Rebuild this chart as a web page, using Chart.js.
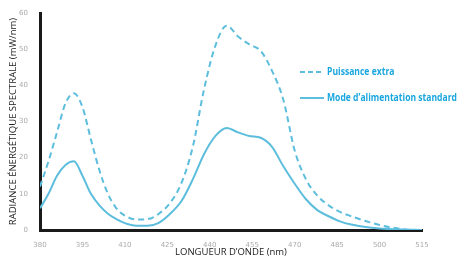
<!DOCTYPE html>
<html>
<head>
<meta charset="utf-8">
<script src="https://cdn.jsdelivr.net/npm/chart.js@4.4.1/dist/chart.umd.min.js"></script>
<style>
  html, body { margin: 0; padding: 0; background: #fff; }
  #wrap { position: relative; width: 458px; height: 259px; }
</style>
</head>
<body>
<div id="wrap"><canvas id="spectrumChart" width="458" height="259"></canvas></div>
<script>
  // wavelengths (nm) and radiance values (mW/nm)
  var wavelengths = [380, 383, 386, 389, 392, 395, 398, 401, 404, 407, 410, 414, 418, 422, 426, 430, 434, 438, 442, 446, 450, 454, 458, 462, 466, 470, 474, 478, 482, 486, 490, 495, 500, 505, 510, 515];
  var extraPower = [12, 19, 27, 35, 37.8, 34, 25, 16.5, 10, 6, 4, 2.9, 3, 4.5, 7.5, 13, 23, 39, 51, 56.5, 53.5, 51.3, 49.5, 44, 36, 22, 14, 9.5, 6.8, 5, 3.8, 2.5, 1.4, 0.6, 0.1, 0];
  var standardMode = [6, 10, 15, 18, 19, 15, 10, 6.8, 4.5, 3, 1.9, 1.2, 1.2, 2, 4.5, 8, 14, 21, 26, 28.2, 27, 26, 25.5, 23, 17.6, 12.8, 8.5, 5.5, 3.8, 2.4, 1.5, 0.8, 0.4, 0.2, 0.1, 0];
  var seriesLabels = ['Puissance extra', 'Mode d\u2019alimentation standard'];
  var xTicks = [380, 395, 410, 425, 440, 455, 470, 485, 500, 515];
  var yTicks = [0, 10, 20, 30, 40, 50, 60];

  var lineColor = '#5cbedc';

  function toPoints(vals) {
    return vals.map(function (v, i) { return { x: wavelengths[i], y: v }; });
  }

  // legend drawn inside the plot, on the right (text squeezed like a condensed face)
  var legendPlugin = {
    id: 'insideLegend',
    afterDatasetsDraw: function (chart) {
      var c = chart.ctx;
      var rows = [{ y: 72, dash: [5, 3] }, { y: 98, dash: [] }];
      c.save();
      c.font = 'bold 11px "Open Sans", sans-serif';
      var squeeze = 130 / c.measureText(seriesLabels[1]).width;
      rows.forEach(function (r, i) {
        c.strokeStyle = lineColor;
        c.lineWidth = 2;
        c.setLineDash(r.dash);
        c.beginPath();
        c.moveTo(300, r.y);
        c.lineTo(324, r.y);
        c.stroke();
        c.setLineDash([]);
        c.save();
        c.translate(327, r.y);
        c.scale(squeeze, 1);
        c.fillStyle = '#1aa6de';
        c.textBaseline = 'middle';
        c.fillText(seriesLabels[i], 0, 0);
        c.restore();
      });
      c.restore();
    }
  };

  var ctx = document.getElementById('spectrumChart').getContext('2d');
  var spectrumChart = new Chart(ctx, {
    type: 'line',
    data: {
      datasets: [
        {
          label: seriesLabels[0],
          data: toPoints(extraPower),
          borderColor: lineColor,
          borderWidth: 2,
          borderDash: [6, 4],
          pointRadius: 0,
          fill: false,
          cubicInterpolationMode: 'monotone'
        },
        {
          label: seriesLabels[1],
          data: toPoints(standardMode),
          borderColor: lineColor,
          borderWidth: 2,
          pointRadius: 0,
          fill: false,
          cubicInterpolationMode: 'monotone'
        }
      ]
    },
    options: {
      responsive: false,
      animation: false,
      layout: { padding: { top: 13, right: 36, left: 0, bottom: 0 } },
      plugins: {
        legend: { display: false },
        tooltip: { enabled: false }
      },
      scales: {
        x: {
          type: 'linear',
          min: 380,
          max: 515,
          afterBuildTicks: function (scale) {
            scale.ticks = xTicks.map(function (v) { return { value: v }; });
          },
          afterFit: function (scale) { scale.height = 29; },
          grid: { display: false },
          border: { color: '#1a1a1a', width: 3 },
          ticks: { color: '#aaa', font: { size: 7, family: 'DejaVu Sans' }, padding: 3, maxRotation: 0 },
          title: {
            display: true,
            text: 'LONGUEUR D\u2019ONDE (nm)',
            color: '#222',
            font: { size: 9.5, family: '"Open Sans", sans-serif' },
            padding: { top: 0, bottom: 1 }
          }
        },
        y: {
          min: 0,
          max: 60,
          afterBuildTicks: function (scale) {
            scale.ticks = yTicks.map(function (v) { return { value: v }; });
          },
          afterFit: function (scale) { scale.width = 40; },
          grid: { display: false },
          border: { color: '#1a1a1a', width: 3 },
          ticks: { color: '#aaa', font: { size: 7, family: 'DejaVu Sans' }, padding: 4 },
          title: {
            display: true,
            text: 'RADIANCE \u00c9NERG\u00c9TIQUE SPECTRALE (mW/nm)',
            color: '#222',
            font: { size: 9.5, family: '"Open Sans", sans-serif' },
            padding: { top: 8, bottom: 0 }
          }
        }
      }
    },
    plugins: [legendPlugin]
  });
</script>
</body>
</html>
